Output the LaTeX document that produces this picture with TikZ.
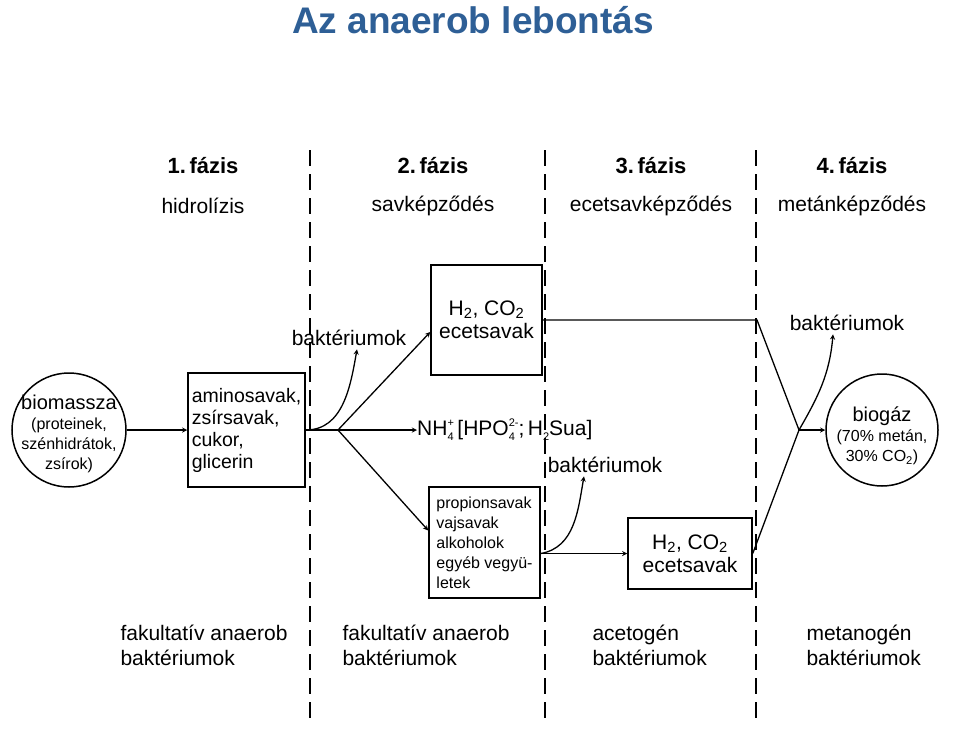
\documentclass[tikz,border=0pt]{standalone}
\usepackage{fontspec}
\setmainfont{Liberation Sans}
\usetikzlibrary{arrows}
\definecolor{titleblue}{RGB}{46,95,150}
\newcommand{\lowidx}[1]{\raisebox{-5pt}{\fontsize{11}{11}\selectfont #1}}
\newcommand{\subsup}[2]{\makebox[0pt][l]{\lowidx{#1}}%
  \raisebox{9pt}{\fontsize{11}{11}\selectfont #2}}

\begin{document}
\begin{tikzpicture}[x=1pt,y=-1pt,
  box/.style={draw, line width=1.5pt, inner sep=3pt},
  flow/.style={->,>=stealth, line width=1.3pt},
  plain/.style={line width=1.3pt},
  phaseline/.style={line width=1.2pt, dash pattern=on 16pt off 8pt},
  big/.style={font=\fontsize{21}{23}\selectfont},
  small/.style={font=\fontsize{16}{20}\selectfont}]

\useasboundingbox (0,0) rectangle (960,736);

\node[font=\fontsize{37}{40}\selectfont\bfseries, text=titleblue] (title) at (473,20)
{Az anaerob lebontás};

% phase borders and headings
\foreach \x in {310,545,756}
  \draw[phaseline] (\x,150) -- (\x,722);

\foreach \x/\n/\t in {203/1/hidrolízis, 433/2/savképződés, 651/3/ecetsavképződés, 852/4/metánképződés}
{
  \node[font=\fontsize{22}{24}\selectfont\bfseries] (ph\n) at (\x,166) {\n.\,fázis};
  \node[big] (sub\n) at (\x,206) {\t};
}

% substances
\node[box, circle, minimum size=114pt] (bio) at (69,430) {};
\node[small, align=center] (biotext) at (69,434)
{{\fontsize{20}{22}\selectfont biomassza}\\(proteinek,\\szénhidrátok,\\zsírok)};

\node[box, big, font=\fontsize{19.5}{22}\selectfont, align=left, inner sep=2pt,
  minimum width=117pt, minimum height=114pt] (hyd) at (246.5,430)
{aminosavak,\\zsírsavak,\\cukor,\\glicerin};

\node[box, big, align=center, minimum width=111pt, minimum height=110pt] (acid1) at (486.5,320)
{H\textsubscript{2}, CO\textsubscript{2}\\ecetsavak};

\node[big, anchor=west, inner sep=0pt] (ions) at (417,430)
{NH\subsup{4}{+}\,[HPO\subsup{4}{2-};\,H\lowidx{2}Sua]};

\node[box, small, align=left, minimum width=111pt, minimum height=111pt] (acid2) at (484.5,542.5)
{propionsavak\\vajsavak\\alkoholok\\egyéb vegyü-\\letek};

\node[box, big, align=center, minimum width=124pt, minimum height=71pt] (acet) at (690,553.5)
{H\textsubscript{2}, CO\textsubscript{2}\\ecetsavak};

\node[box, circle, minimum size=112pt] (gas) at (882,430) {};
\node[small, align=center] (gastext) at (882,436)
{{\fontsize{20}{22}\selectfont biogáz}\\(70\% metán,\\30\% CO\textsubscript{2})};

% bacteria labels
\node[big] (bakt1) at (349,338) {baktériumok};
\node[big] (bakt2) at (605,465) {baktériumok};
\node[big] (bakt3) at (847,323) {baktériumok};

\node[big, font=\fontsize{21}{25}\selectfont, align=left, anchor=west] (bac1) at (117,645)
{fakultatív anaerob\\baktériumok};
\node[big, font=\fontsize{21}{25}\selectfont, align=left, anchor=west] (bac2) at (339,645)
{fakultatív anaerob\\baktériumok};
\node[big, font=\fontsize{21}{25}\selectfont, align=left, anchor=west] (bac3) at (589,645)
{acetogén\\baktériumok};
\node[big, font=\fontsize{21}{25}\selectfont, align=left, anchor=west] (bac4) at (803,645)
{metanogén\\baktériumok};

\coordinate (fork) at (338,430);
\coordinate (bend) at (757,320);
\coordinate (join) at (799,430);

% connectors
\draw[flow] (bio) -- (hyd);
\draw[plain] (hyd.east) -- (fork);
\draw[flow] (hyd.east) to [out=0,in=-100] ([xshift=8pt]bakt1.south);

\draw[flow] (fork) -- ([yshift=-12pt]acid1.west);
\draw[flow] (fork) -- (ions.west);
\draw[flow] (fork) -- ([yshift=12pt]acid2.west);

\draw[flow] (acid2.east |- acet.west) to [out=10,in=-100] ([xshift=-21pt]bakt2.south);
\draw[flow] (acid2.east |- acet.west) -- (acet.west);

\draw[plain] (acid1.east) -- (bend) -- (join);
\draw[plain] (acet.east) -- (join);
\draw[flow] (join) -- (gas.west);
\draw[flow] (join) to [out=60,in=-95] ([xshift=-14pt]bakt3.south);

\end{tikzpicture}
\end{document}
